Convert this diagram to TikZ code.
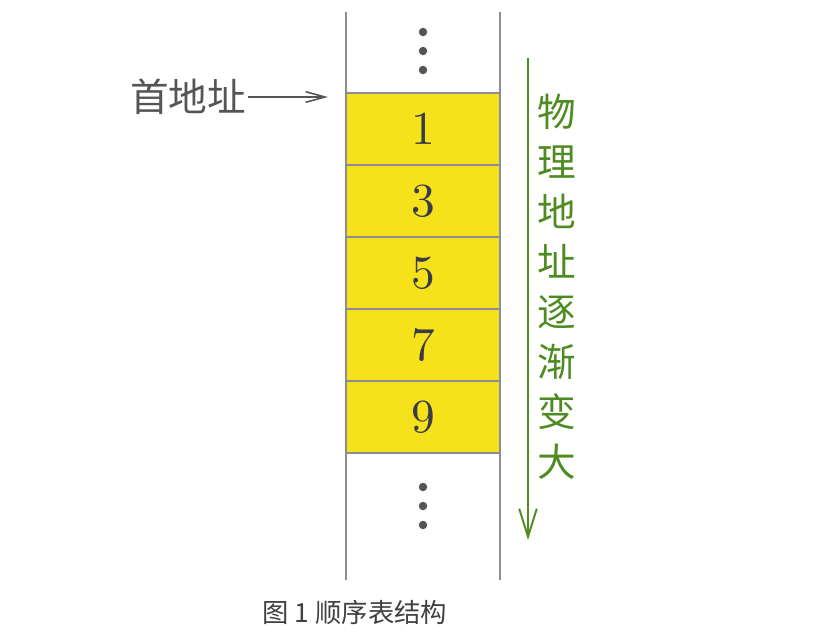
\documentclass[tikz,border=0pt]{standalone}
\usepackage{fontspec}
\newfontfamily\cjk{Noto Sans CJK SC}
\newfontfamily\digitfont{lmroman10-regular.otf}
\usetikzlibrary{positioning,arrows.meta}
\definecolor{cellyellow}{RGB}{246,226,26}
\definecolor{linegray}{RGB}{140,140,150}
\definecolor{textgray}{RGB}{85,85,85}
\definecolor{digitgray}{RGB}{58,58,72}
\definecolor{addrgreen}{RGB}{78,140,34}
\tikzset{>={Straight Barb[length=11pt,width=6pt]}}

\begin{document}
\begin{tikzpicture}[x=0.02cm,y=-0.02cm,
	cell/.style={draw=linegray,line width=1pt,fill=cellyellow,outer sep=0pt,
		minimum width=3.08cm,minimum height=1.44cm,inner sep=0pt,
		font=\digitfont\fontsize{27}{30}\selectfont,text=digitgray},
	rail/.style={linegray,line width=1.2pt},
	dot/.style={circle,fill=textgray,inner sep=0pt,minimum size=0.17cm}]
	\useasboundingbox (0,0) rectangle (839,633);
	% column of memory cells
	\draw[rail] (346,12) -- (346,580);
	\draw[rail] (500,12) -- (500,580);
	\node[cell] (c1) at (423,129) {1};
	\node[cell,below=0pt of c1] (c3) {3};
	\node[cell,below=0pt of c3] (c5) {5};
	\node[cell,below=0pt of c5] (c7) {7};
	\node[cell,below=0pt of c7] (c9) {9};
	\foreach \y in {32,51,70}
		\node[dot] (top\y) at (423,\y) {};
	\foreach \y in {487,506,525}
		\node[dot] (bot\y) at (423,\y) {};
	% start address
	\node[text=textgray,inner sep=1pt,font=\cjk\fontsize{22}{26}\selectfont] (head) at (188,97) {首地址};
	\coordinate (headtip) at (328,97);
	\draw[->,textgray,line width=0.9pt] (head.east) -- (headtip);
	% direction of growth
	\coordinate (gtop) at (528,58);
	\coordinate (gbot) at (528,540);
	\draw[-{Straight Barb[length=16pt,width=10pt]},addrgreen,line width=1.1pt] (gtop) -- (gbot);
	\node[text=addrgreen,align=center,font=\cjk\fontsize{22}{28.45}\selectfont] (grow) at (557,287)
		{物\\理\\地\\址\\逐\\渐\\变\\大};
	\node[text=black!75,font=\cjk\fontsize{15}{18}\selectfont] (cap) at (355,612) {图 1 顺序表结构};
\end{tikzpicture}
\end{document}
